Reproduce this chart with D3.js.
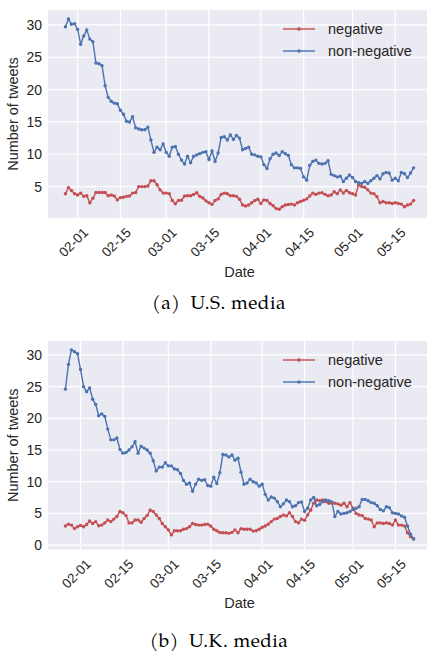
<!DOCTYPE html>
<html>
<head>
<meta charset="utf-8">
<script src="https://cdn.jsdelivr.net/npm/d3@7"></script>
<style>
  body { margin: 0; background: #fff; }
  svg { display: block; }
</style>
</head>
<body>
<svg id="fig"></svg>
<script>
// ---- data ----
const seriesNames = ['negative', 'non-negative'];
const tickLabels = ['02-01', '02-15', '03-01', '03-15', '04-01', '04-15', '05-01', '05-15'];
const yTicksUS = [5, 10, 15, 20, 25, 30];
const yTicksUK = [0, 5, 10, 15, 20, 25, 30];

const usStart = '2020-01-28';
const ukStart = '2020-01-27';

const usNegative = [3.9,4.85,4.4,3.9,3.7,4.0,3.5,3.6,2.5,3.2,
  4.1,4.1,4.1,4.1,3.6,3.7,3.55,2.95,3.3,3.35,
  3.5,3.55,4.0,4.1,5.0,5.0,5.0,5.1,5.9,5.9,
  5.3,4.5,4.0,4.0,3.9,2.85,2.35,2.85,2.9,3.55,
  3.6,3.6,3.8,4.05,3.5,3.25,2.8,2.5,2.25,2.85,
  3.1,3.8,4.0,3.9,3.6,3.6,3.5,3.05,2.15,2.0,
  2.15,2.5,2.85,3.05,2.4,2.95,2.85,2.4,2.05,1.6,
  1.5,1.9,2.15,2.25,2.3,2.15,2.5,2.7,2.9,3.1,
  3.55,4.0,3.8,4.0,4.05,3.8,3.6,3.7,4.2,3.9,
  4.5,4.0,4.4,4.05,3.9,3.7,5.25,5.0,4.9,4.5,
  4.0,3.9,3.45,2.5,2.7,2.5,2.5,2.4,2.5,2.4,
  2.3,1.9,2.15,2.3,2.85];

const usNonNegative = [29.7,30.9,30.1,30.2,29.3,27.0,28.3,29.2,27.8,27.4,
  24.1,24.0,23.7,20.6,18.8,18.2,17.9,17.8,16.8,16.2,
  15.1,15.0,15.8,14.1,13.9,13.8,13.8,14.2,12.2,10.3,
  11.1,10.7,11.6,10.3,9.7,11.1,11.2,10.0,9.1,8.5,
  9.7,8.7,9.7,9.9,10.1,10.3,10.4,9.2,10.5,8.9,
  10.2,12.6,12.7,12.2,13.0,12.3,12.9,12.5,10.7,10.9,
  11.1,10.0,9.9,9.7,9.6,8.4,7.8,9.3,10.0,10.2,
  9.8,10.4,10.1,9.8,8.4,7.9,7.9,7.8,6.5,6.0,
  8.3,8.9,9.1,8.6,8.5,8.6,9.0,6.9,6.7,6.5,
  6.6,5.8,6.3,6.8,6.4,5.8,5.6,5.5,5.8,5.5,
  5.9,6.3,6.7,6.2,7.0,7.2,7.1,6.0,6.3,5.9,
  7.2,7.0,6.4,7.1,7.9];

const ukNegative = [3.0,3.3,3.15,2.6,2.9,3.1,2.9,3.25,3.8,3.4,
  3.7,3.05,3.15,3.5,3.95,3.7,4.1,4.5,5.3,5.1,
  4.65,3.5,3.5,3.95,3.95,3.6,4.2,4.65,5.5,5.3,
  4.75,4.2,3.4,2.9,2.4,1.6,2.25,2.25,2.25,2.5,
  2.6,2.9,3.4,3.25,3.15,3.15,3.25,3.3,3.0,2.5,
  2.25,2.0,1.95,1.95,1.85,2.0,2.4,1.95,2.6,2.5,
  2.5,2.5,2.2,2.25,2.5,2.8,3.0,3.3,3.7,4.1,
  4.2,4.5,4.75,4.6,5.1,4.5,3.7,3.5,4.1,3.9,
  4.75,5.5,6.6,7.1,7.0,7.1,6.85,6.6,6.6,6.6,
  6.5,6.3,6.6,6.05,6.7,5.8,5.0,4.75,4.65,4.2,
  4.1,3.95,2.9,3.5,3.5,3.4,3.5,3.4,3.15,3.95,
  3.15,3.15,3.0,1.95,1.3,0.95];

const ukNonNegative = [24.6,28.5,30.8,30.5,30.2,27.7,25.0,24.2,24.8,23.0,
  22.2,20.4,20.7,20.3,18.3,16.6,16.6,16.9,15.1,14.5,
  14.6,15.0,15.5,16.3,14.5,15.6,15.3,15.0,14.5,13.3,
  11.7,12.3,12.3,13.0,12.5,12.5,12.0,11.9,11.3,10.2,
  9.6,9.8,8.5,9.6,10.4,10.2,10.3,9.4,9.3,10.7,
  9.7,11.4,14.3,14.2,13.9,14.2,13.4,13.7,11.5,9.6,
  9.8,10.4,10.0,9.8,9.3,9.6,8.0,7.1,7.6,7.4,
  6.85,6.05,6.5,7.1,6.85,6.05,6.2,6.7,6.8,5.3,
  5.8,7.1,7.5,6.2,6.4,6.85,7.1,7.0,6.8,4.5,
  5.3,4.9,5.0,5.1,5.3,5.6,5.8,6.05,7.2,7.2,
  7.0,6.7,6.6,6.2,5.6,5.4,6.05,5.9,5.1,5.0,
  4.9,4.6,4.4,3.0,1.7,1.0];

// ---- chart ----
const colors = ['#C44E52', '#4C72B0'];
const sansFont = '"Liberation Sans", Arial, sans-serif';
const serifFont = 'Palatino, "TeX Gyre Pagella", "Liberation Serif", serif';
const parseDate = d3.timeParse('%Y-%m-%d');

const svg = d3.select('#fig')
    .attr('width', 427)
    .attr('height', 651)
    .style('background', '#fff');

class LineChart {
    constructor (config, series) {
        this.config = {
            top: config.top,
            left: config.left || 48,
            width: config.width || 383,
            height: config.height || 208,
            start: config.start,
            ydomain: config.ydomain,
            yticks: config.yticks,
            caption: config.caption,
            captionY: config.captionY,
            dateY: config.dateY
        };
        this.series = series;
        this.init();
    }

    init() {
        let self = this;
        const c = self.config;

        const start = parseDate(c.start);
        const n = self.series[0].length;
        self.dates = d3.range(n).map(i => d3.timeDay.offset(start, i));
        const end = self.dates[n - 1];
        const pad = (end - start) * 0.05;

        self.xscale = d3.scaleTime()
            .domain([new Date(+start - pad), new Date(+end + pad)])
            .range([0, c.width]);
        self.yscale = d3.scaleLinear()
            .domain(c.ydomain)
            .range([c.height, 0]);

        self.chart = svg.append('g')
            .attr('transform', `translate(${c.left}, ${c.top})`);

        self.chart.append('rect')
            .attr('width', c.width)
            .attr('height', c.height)
            .attr('fill', '#EAEAF2');

        self.render();
    }

    render() {
        let self = this;
        const c = self.config;
        const xticks = tickLabels.map(t => parseDate('2020-' + t));

        // grid lines
        self.chart.append('g')
            .selectAll('line')
            .data(c.yticks)
            .join('line')
            .attr('x1', 0).attr('x2', c.width)
            .attr('y1', d => self.yscale(d)).attr('y2', d => self.yscale(d))
            .attr('stroke', '#fff').attr('stroke-width', 1.2);
        self.chart.append('g')
            .selectAll('line')
            .data(xticks)
            .join('line')
            .attr('x1', d => self.xscale(d)).attr('x2', d => self.xscale(d))
            .attr('y1', 0).attr('y2', c.height)
            .attr('stroke', '#fff').attr('stroke-width', 1.2);

        // y axis labels
        const yaxis = d3.axisLeft(self.yscale)
            .tickValues(c.yticks)
            .tickSize(0)
            .tickPadding(6);
        self.chart.append('g')
            .call(yaxis)
            .call(g => g.select('.domain').remove())
            .call(g => g.selectAll('text')
                .attr('fill', '#262626')
                .style('font-family', sansFont)
                .style('font-size', '14px'));

        // x tick labels, rotated
        self.chart.append('g')
            .selectAll('text')
            .data(tickLabels)
            .join('text')
            .attr('transform', (d, i) => `translate(${self.xscale(xticks[i]) + 8}, ${c.height + 12}) rotate(-45)`)
            .attr('text-anchor', 'end')
            .attr('dy', '0.35em')
            .attr('fill', '#262626')
            .style('font-family', sansFont)
            .style('font-size', '13.5px')
            .text(d => d);

        // lines + markers
        const line = d3.line()
            .x((d, i) => self.xscale(self.dates[i]))
            .y(d => self.yscale(d));

        self.series.forEach((values, k) => {
            self.chart.append('path')
                .datum(values)
                .attr('d', line)
                .attr('fill', 'none')
                .attr('stroke', colors[k])
                .attr('stroke-width', 1.4);
            self.chart.append('g')
                .selectAll('circle')
                .data(values)
                .join('circle')
                .attr('cx', (d, i) => self.xscale(self.dates[i]))
                .attr('cy', d => self.yscale(d))
                .attr('r', 1.7)
                .attr('fill', colors[k]);
        });

        // legend
        const legend = self.chart.append('g')
            .attr('transform', 'translate(235, 19)');
        seriesNames.forEach((name, k) => {
            const row = legend.append('g')
                .attr('transform', `translate(0, ${k * 22})`);
            row.append('line')
                .attr('x1', 0).attr('x2', 32)
                .attr('stroke', colors[k]).attr('stroke-width', 1.4);
            row.append('circle')
                .attr('cx', 16).attr('r', 1.8)
                .attr('fill', colors[k]);
            row.append('text')
                .attr('x', 45)
                .attr('dy', '0.35em')
                .attr('fill', '#262626')
                .style('font-family', sansFont)
                .style('font-size', '14.5px')
                .text(name);
        });

        // axis titles
        svg.append('text')
            .attr('transform', `translate(18, ${c.top + c.height / 2}) rotate(-90)`)
            .attr('text-anchor', 'middle')
            .attr('fill', '#262626')
            .style('font-family', sansFont)
            .style('font-size', '14.5px')
            .text('Number of tweets');

        svg.append('text')
            .attr('x', c.left + c.width / 2)
            .attr('y', c.dateY)
            .attr('text-anchor', 'middle')
            .attr('fill', '#262626')
            .style('font-family', sansFont)
            .style('font-size', '14.5px')
            .text('Date');

        svg.append('text')
            .attr('x', 219)
            .attr('y', c.captionY)
            .attr('text-anchor', 'middle')
            .attr('fill', '#000')
            .style('font-family', serifFont)
            .style('font-size', '19px')
            .style('letter-spacing', '0.5px')
            .text(c.caption);
    }
}

new LineChart({
    top: 10, height: 208, start: usStart,
    ydomain: [0.15, 32.3], yticks: yTicksUS,
    caption: '(a)\u2002U.S. media', captionY: 309, dateY: 277
}, [usNegative, usNonNegative]);

new LineChart({
    top: 341, height: 208.5, start: ukStart,
    ydomain: [-0.7, 32.2], yticks: yTicksUK,
    caption: '(b)\u2002U.K. media', captionY: 647, dateY: 608
}, [ukNegative, ukNonNegative]);
</script>
</body>
</html>
